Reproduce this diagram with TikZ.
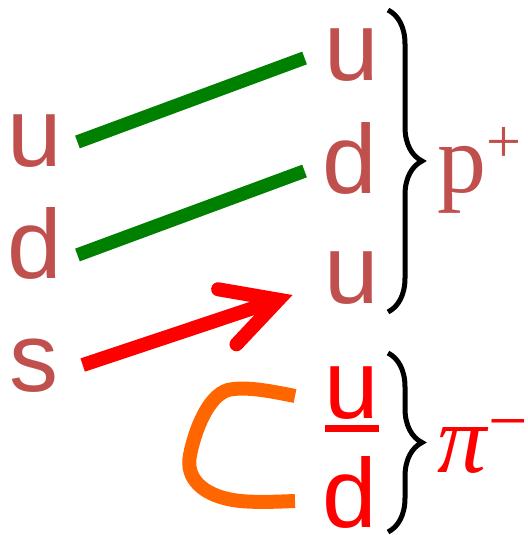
\documentclass[tikz,border=0pt]{standalone}
\usepackage{fontspec}
\setmainfont{Liberation Serif}
\newfontfamily\quarkfont{Liberation Sans}
\usetikzlibrary{arrows.meta, decorations.pathreplacing}

\definecolor{quarkred}{HTML}{C0504D}
\definecolor{gluongreen}{HTML}{008000}
\definecolor{pionred}{HTML}{FF0000}
\definecolor{pairorange}{HTML}{FF6600}

% antiquark: letter with a bar under it
\newcommand{\barquark}[1]{\setbox0\hbox{#1}\rlap{\rule[-14pt]{\wd0}{7pt}}\box0}

\begin{document}
\begin{tikzpicture}[
  x=1pt, y=-1pt,
  every node/.style = {inner sep=0pt, anchor=base},
  quark/.style   = {font=\quarkfont\fontsize{98}{98}\selectfont, text=#1},
  quark/.default = quarkred,
  hadron/.style  = {font=\fontsize{98}{98}\selectfont, text=#1, anchor=base west},
  flow/.style    = {line width=13.5pt, gluongreen},
  decay/.style   = {line width=14pt, pionred,
                    -{Straight Barb[length=54pt, width=58pt, line cap=round, line join=miter]}},
  bracket/.style = {decorate, decoration={brace, amplitude=34pt}, line width=5pt},
]
\useasboundingbox (0,0) rectangle (527,535);

%% -- Lambda: u d s ---------------------------------------------------------
\node[quark] (lu) at (35,166) {u};
\node[quark] (ld) at (35,278) {d};
\node[quark] (ls) at (34,391) {s};

%% -- proton: u d u ---------------------------------------------------------
\node[quark] (pu1) at (352,80)  {u};
\node[quark] (pd)  at (350,193) {d};
\node[quark] (pu2) at (352,303) {u};

%% -- pion: ubar d ----------------------------------------------------------
\node[quark=pionred] (piu) at (352,418) {\barquark{u}};
\node[quark=pionred] (pid) at (350,527) {d};

%% -- lines -----------------------------------------------------------------
\draw[flow] ([shift={(15,-24)}]lu.base east) -- ([shift={(-20,-22)}]pu1.base west);
\draw[flow] ([shift={(15,-23)}]ld.base east) -- ([shift={(-18,-22)}]pd.base west);
\draw[decay] ([shift={(24,-26)}]ls.base east) -- ([shift={(-32,-8)}]pu2.base west);

% new pair
\draw[pairorange, line width=14pt]
  (295,396) .. controls (270,391) and (245,386) .. (228,390)
  .. controls (208,396) and (195,430) .. (190,455)
  .. controls (185,480) and (205,494) .. (228,499)
  .. controls (245,503) and (270,502) .. (295,501);

%% -- braces + names --------------------------------------------------------
\draw[bracket] (388,10) -- (388,312);
\draw[bracket] (388,353) -- (388,532);

\node[hadron=quarkred] (proton) at (437,192)
  {p\raisebox{29.5pt}{\fontsize{62}{62}\selectfont +}};
\node[hadron=pionred] (pion) at (437,472)
  {\textit{π}\raisebox{28pt}{\fontsize{70}{70}\selectfont −}};

\end{tikzpicture}
\end{document}
